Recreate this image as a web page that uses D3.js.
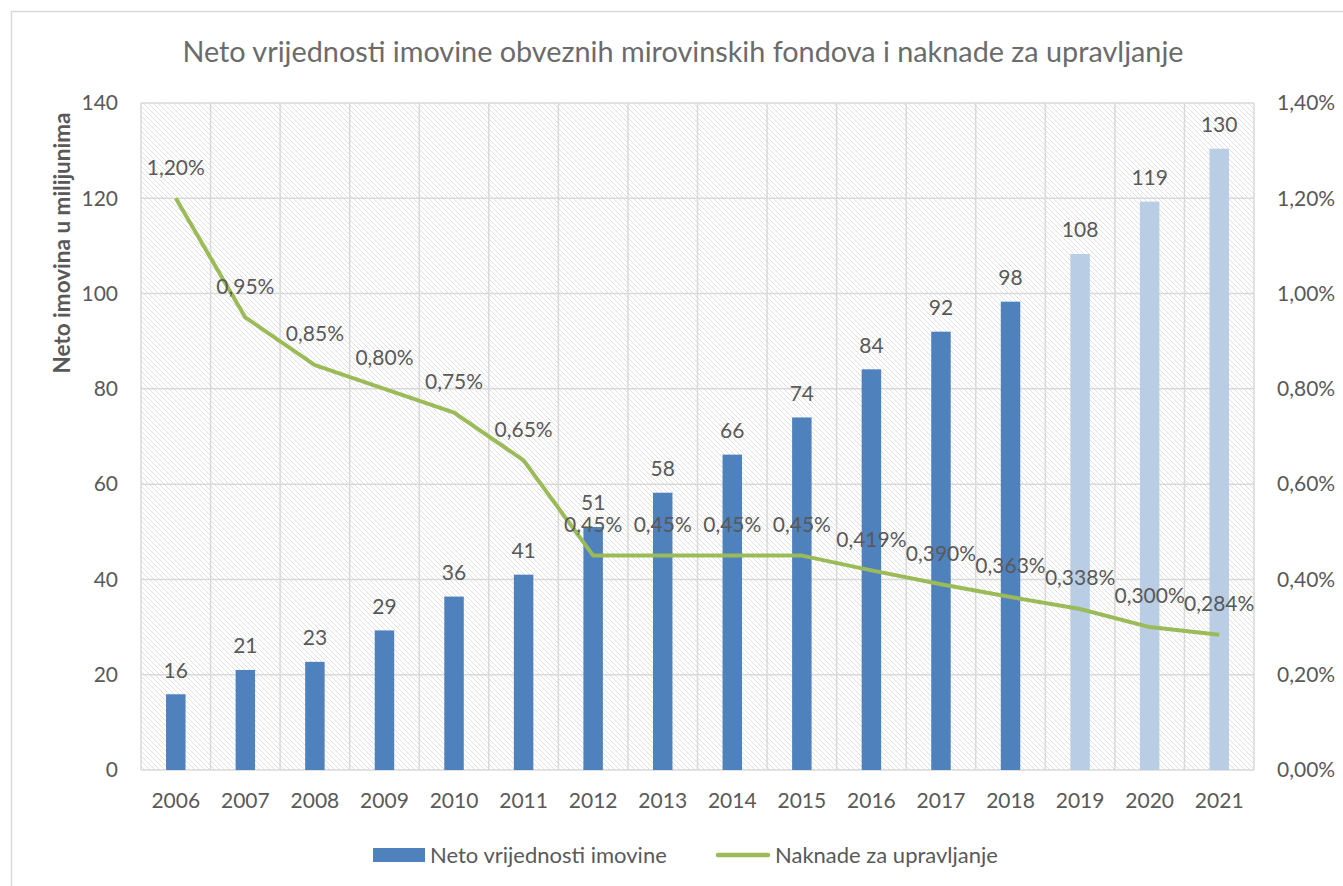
<!DOCTYPE html>
<html>
<head>
<meta charset="utf-8">
<script src="https://cdn.jsdelivr.net/npm/d3@7"></script>
<style>
  body { margin: 0; background: #fff; }
  text { font-family: Lato, "Open Sans", sans-serif; fill: #595959; }
</style>
</head>
<body>
<script>
// chart data
var years = ["2006", "2007", "2008", "2009", "2010", "2011", "2012", "2013",
             "2014", "2015", "2016", "2017", "2018", "2019", "2020", "2021"];
var assets = [15.9, 21, 22.7, 29.3, 36.4, 41, 51, 58.2, 66.2, 74, 84.1, 92, 98.3, 108.3, 119.3, 130.4];
var fees = [1.20, 0.95, 0.85, 0.80, 0.75, 0.65, 0.45, 0.45, 0.45, 0.45, 0.419, 0.390, 0.363, 0.338, 0.300, 0.284];
var feeLabels = ["1,20%", "0,95%", "0,85%", "0,80%", "0,75%", "0,65%", "0,45%", "0,45%",
                 "0,45%", "0,45%", "0,419%", "0,390%", "0,363%", "0,338%", "0,300%", "0,284%"];
var projected = ["2019", "2020", "2021"];
var leftTicks = [0, 20, 40, 60, 80, 100, 120, 140];
var rightTicks = [0, 0.2, 0.4, 0.6, 0.8, 1.0, 1.2, 1.4];

var width = 1343, height = 886;
var margin = {top: 103, left: 141, right: 1254, bottom: 770};

var svg = d3.select("body").append("svg")
    .attr("width", width)
    .attr("height", height);

// hatch pattern for plot background
var defs = svg.append("defs");
var pat = defs.append("pattern")
    .attr("id", "hatch")
    .attr("patternUnits", "userSpaceOnUse")
    .attr("width", 5)
    .attr("height", 5);
pat.append("path")
    .attr("d", "M-1,-1L6,6M-1,4L1,6M4,-1L6,1")
    .attr("stroke", "#e0e0e0")
    .attr("stroke-width", 1);

// outer chart border
svg.append("rect")
    .attr("x", 11.5).attr("y", 11.5)
    .attr("width", 1340).attr("height", 900)
    .attr("fill", "none")
    .attr("stroke", "#d9d9d9")
    .attr("stroke-width", 1.5);

var x = d3.scaleBand()
    .domain(years)
    .range([margin.left, margin.right]);

var y = d3.scaleLinear().domain([0, 140]).range([margin.bottom, margin.top]);
var y2 = d3.scaleLinear().domain([0, 1.4]).range([margin.bottom, margin.top]);

svg.append("rect")
    .attr("x", margin.left).attr("y", margin.top)
    .attr("width", margin.right - margin.left)
    .attr("height", margin.bottom - margin.top)
    .attr("fill", "url(#hatch)");

// grid lines
svg.append("g").selectAll("line.h")
    .data(leftTicks)
  .join("line")
    .attr("x1", margin.left).attr("x2", margin.right)
    .attr("y1", d => y(d)).attr("y2", d => y(d))
    .attr("stroke", "#d9d9d9").attr("stroke-width", 1.5);

svg.append("g").selectAll("line.v")
    .data(years.concat(["end"]))
  .join("line")
    .attr("x1", (d, i) => margin.left + i * x.step())
    .attr("x2", (d, i) => margin.left + i * x.step())
    .attr("y1", margin.top).attr("y2", margin.bottom)
    .attr("stroke", "#d9d9d9").attr("stroke-width", 1.5);

// bars
var barW = x.step() * 0.28;
svg.append("g").selectAll("rect")
    .data(assets)
  .join("rect")
    .attr("x", (d, i) => x(years[i]) + x.bandwidth() / 2 - barW / 2)
    .attr("y", d => y(d))
    .attr("width", barW)
    .attr("height", d => y(0) - y(d))
    .attr("fill", (d, i) => projected.includes(years[i]) ? "#b9cde5" : "#4f81bd");

// fee line
var line = d3.line()
    .x((d, i) => x(years[i]) + x.bandwidth() / 2)
    .y(d => y2(d));

svg.append("path")
    .datum(fees)
    .attr("d", line)
    .attr("fill", "none")
    .attr("stroke", "#9bbb59")
    .attr("stroke-width", 4)
    .attr("stroke-linejoin", "round");

// bar labels
svg.append("g").selectAll("text")
    .data(assets)
  .join("text")
    .attr("x", (d, i) => x(years[i]) + x.bandwidth() / 2)
    .attr("y", d => y(d) - 24)
    .attr("dy", "0.35em")
    .attr("text-anchor", "middle")
    .style("font-size", "21px")
    .text(d => Math.round(d));

// fee labels
svg.append("g").selectAll("text")
    .data(fees)
  .join("text")
    .attr("x", (d, i) => x(years[i]) + x.bandwidth() / 2)
    .attr("y", d => y2(d) - 31)
    .attr("dy", "0.35em")
    .attr("text-anchor", "middle")
    .style("font-size", "21px")
    .text((d, i) => feeLabels[i]);

// left axis
svg.append("g").selectAll("text")
    .data(leftTicks)
  .join("text")
    .attr("x", 118)
    .attr("y", d => y(d))
    .attr("dy", "0.35em")
    .attr("text-anchor", "end")
    .style("font-size", "21px")
    .text(d => d);

// right axis
var pct = d => d.toFixed(2).replace(".", ",") + "%";
svg.append("g").selectAll("text")
    .data(rightTicks)
  .join("text")
    .attr("x", 1277)
    .attr("y", d => y2(d))
    .attr("dy", "0.35em")
    .attr("text-anchor", "start")
    .style("font-size", "21px")
    .text(pct);

// x axis labels
svg.append("g").selectAll("text")
    .data(years)
  .join("text")
    .attr("x", d => x(d) + x.bandwidth() / 2)
    .attr("y", 801)
    .attr("dy", "0.35em")
    .attr("text-anchor", "middle")
    .style("font-size", "21px")
    .text(d => d);

// axis title
svg.append("text")
    .attr("transform", "translate(62,243) rotate(-90)")
    .attr("text-anchor", "middle")
    .attr("dy", "0.35em")
    .style("font-size", "22.5px")
    .style("font-weight", "bold")
    .text("Neto imovina u milijunima");

// chart title
svg.append("text")
    .attr("x", 683)
    .attr("y", 52)
    .attr("dy", "0.35em")
    .attr("text-anchor", "middle")
    .style("font-size", "28.8px")
    .style("fill", "#6b6b6b")
    .text("Neto vrijednosti imovine obveznih mirovinskih fondova i naknade za upravljanje");

// legend
var legend = svg.append("g");
legend.append("rect")
    .attr("x", 373).attr("y", 848)
    .attr("width", 52).attr("height", 14)
    .attr("fill", "#4f81bd");
legend.append("text")
    .attr("x", 430).attr("y", 855)
    .attr("dy", "0.35em")
    .style("font-size", "22px")
    .text("Neto vrijednosti imovine");
legend.append("line")
    .attr("x1", 718).attr("x2", 768)
    .attr("y1", 855).attr("y2", 855)
    .attr("stroke", "#9bbb59")
    .attr("stroke-width", 4.5)
    .attr("stroke-linecap", "round");
legend.append("text")
    .attr("x", 775).attr("y", 855)
    .attr("dy", "0.35em")
    .style("font-size", "22px")
    .text("Naknade za upravljanje");
</script>
</body>
</html>
